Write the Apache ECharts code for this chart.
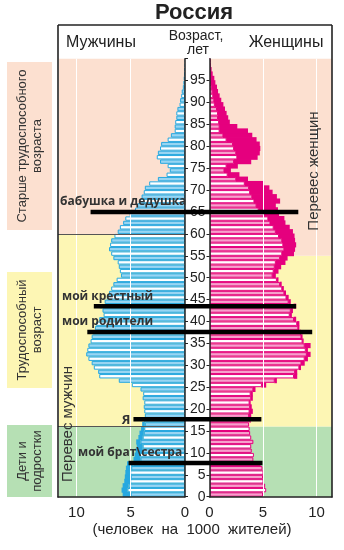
<!DOCTYPE html>
<html>
<head>
<meta charset="utf-8">
<script src="https://cdn.jsdelivr.net/npm/echarts@6/dist/echarts.min.js"></script>
<style>
html,body{margin:0;padding:0;background:#fff}
#c{width:344px;height:550px}
</style>
</head>
<body>
<div id="c"></div>
<script>
// One-year age groups 0..99
const ages = [];
for (let a = 0; a < 100; a++) ages.push(a);

// Men per 1000 inhabitants, ages 0..99
const male = [
  5.7, 5.8, 5.7, 5.55, 5.5, 5.45, 5.4, 5.3, 4.7, 4.6,
  4.5, 4.4, 4.45, 4.25, 4.15, 4.0, 3.9, 3.8, 3.7, 3.75,
  3.8, 3.75, 3.9, 3.85, 4.1, 4.9, 6.1, 7.9, 8.0, 8.4,
  8.6, 8.9, 9.1, 9.0, 8.9, 8.7, 8.6, 8.5, 8.3, 8.2,
  7.9, 7.5, 7.6, 7.9, 7.4, 7.2, 7.0, 6.8, 6.6, 6.3,
  5.9, 6.0, 6.1, 6.2, 6.6, 6.8, 7.0, 6.9, 6.8, 6.5,
  6.2, 6.0, 5.7, 5.5, 5.1, 4.6, 4.4, 4.2, 4.0, 3.8,
  3.7, 3.3, 2.5, 1.7, 1.4, 1.6, 2.3, 2.6, 2.5, 2.3,
  2.2, 1.6, 1.3, 0.95, 0.95, 0.9, 0.8, 0.8, 0.7, 0.5,
  0.45, 0.35, 0.3, 0.2, 0.15, 0.12, 0.08, 0.05, 0.03, 0.02
];

// Women per 1000 inhabitants, ages 0..99
const female = [
  5.0, 5.3, 5.2, 5.05, 5.0, 5.05, 4.95, 4.8, 4.1, 4.15,
  3.95, 3.9, 4.1, 3.9, 3.8, 3.75, 3.7, 3.85, 3.9, 4.05,
  3.95, 3.85, 4.05, 4.05, 4.3, 5.3, 6.3, 8.2, 8.2, 8.55,
  8.9, 9.2, 9.45, 9.2, 9.45, 8.8, 8.7, 8.55, 8.4, 8.4,
  8.1, 7.7, 7.8, 8.1, 7.6, 7.4, 7.15, 6.95, 6.75, 6.45,
  6.2, 6.45, 6.7, 7.1, 7.3, 7.9, 8.0, 8.1, 8.0, 7.95,
  7.8, 7.5, 7.1, 7.0, 6.5, 6.4, 6.2, 6.6, 6.3, 5.9,
  5.6, 5.1, 3.6, 2.8, 2.0, 2.65, 3.9, 4.5, 4.7, 4.75,
  4.7, 4.4, 4.0, 3.6, 2.6, 1.9, 1.75, 1.6, 1.45, 1.3,
  1.1, 0.95, 0.8, 0.7, 0.55, 0.45, 0.3, 0.2, 0.12, 0.06
];

// Age bands (years) for each sex
const bandNames = ['Дети и подростки', 'Трудоспособный возраст', 'Старше трудоспособного возраста'];
const maleBandEdges = [0, 16, 60, 100];
const femaleBandEdges = [0, 16, 55, 100];

// Family members marked on the pyramid: age and how far the marker reaches on each side
const noteTexts = ['бабушка и дедушка', 'мой крестный', 'мои родители', 'Я', 'мой брат\\сестра'];
const noteAges = [65, 43.5, 37.6, 17.7, 7.7];
const noteMaleReach = [8.7, 8.4, 9.0, 4.75, 5.2];
const noteFemaleReach = [8.3, 8.1, 9.6, 4.85, 4.95];

// ---- styles ----
const bandColors = ['#b6e0b4', '#fdf6b4', '#fce0d0'];
const maleLine = '#27a8e0', maleLight = '#98d5f2';
const femLine = '#e5007e', femLight = '#f6a0cb';
const ink = '#222';
const FONT = '"Liberation Sans", Arial, sans-serif';

const TOP = 58.7, H = 438;
const MALE_MAX = 11.7, FEM_MAX = 11.45;

function bandAreas(edges) {
  const out = [];
  for (let k = 0; k < 3; k++) {
    out.push([{ name: bandNames[k], yAxis: edges[k], itemStyle: { color: bandColors[k] } }, { yAxis: edges[k + 1] }]);
  }
  return out;
}

// One row per year of age: the part shared with the other sex is outlined
// (filled light / white on alternate years), the surplus is solid.
function pyramidSeries(name, xAxisIndex, yAxisIndex, lineColor, lightColor, own, other) {
  return {
    type: 'custom', name, xAxisIndex, yAxisIndex, z: 2, silent: true,
    data: ages.map((a, i) => [a, own[i], other[i]]),
    renderItem(params, api) {
      const age = api.value(0), v = api.value(1), o = api.value(2);
      const base = Math.min(v, o);
      const pLow = api.coord([0, age]);
      const pHigh = api.coord([base, age + 1]);
      const pEnd = api.coord([v, age + 1]);
      const top = Math.min(pLow[1], pHigh[1]);
      const h = Math.abs(pLow[1] - pHigh[1]);
      const children = [];
      if (v > o) {
        children.push({ type: 'rect',
          shape: { x: Math.min(pHigh[0], pEnd[0]) - 0.5, y: top - 0.4, width: Math.abs(pEnd[0] - pHigh[0]) + 0.5, height: h + 0.8 },
          style: { fill: lineColor } });
      }
      children.push({ type: 'rect',
        shape: { x: Math.min(pLow[0], pHigh[0]) + 0.5, y: top + 0.5, width: Math.max(0, Math.abs(pHigh[0] - pLow[0]) - 1), height: h - 1 },
        style: { fill: age % 2 === 0 ? lightColor : '#ffffff', stroke: lineColor, lineWidth: 1 } });
      return { type: 'group', children };
    }
  };
}

const chart = echarts.init(document.getElementById('c'));

const valueX = (gridIndex, max, inverse) => ({
  gridIndex, type: 'value', min: 0, max, interval: 5, inverse, z: 5,
  axisLine: { show: true, onZero: false, lineStyle: { color: ink, width: 1.5 } },
  axisTick: { show: false },
  axisLabel: { fontSize: 15, color: ink, margin: 9, fontFamily: FONT, showMaxLabel: false },
  splitLine: { show: true, lineStyle: { color: '#ffffff', width: 1 } }
});

chart.setOption({
  animation: false,
  textStyle: { fontFamily: FONT },
  grid: [
    { left: 58, top: TOP, width: 127, height: H },
    { left: 209.5, top: TOP, width: 122.5, height: H }
  ],
  xAxis: [valueX(0, MALE_MAX, true), valueX(1, FEM_MAX, false)],
  yAxis: [
    { gridIndex: 0, type: 'value', min: 0, max: 100, interval: 5, position: 'right', z: 6,
      axisLine: { show: true, onZero: false, lineStyle: { color: ink, width: 1.5 } },
      axisTick: { show: true, inside: false, length: 3, lineStyle: { color: ink } },
      axisLabel: { show: false }, splitLine: { show: false } },
    { gridIndex: 1, type: 'value', min: 0, max: 100, interval: 5, position: 'left', z: 6,
      axisLine: { show: true, onZero: false, lineStyle: { color: ink, width: 1.5 } },
      axisTick: { show: true, inside: false, length: 3, lineStyle: { color: ink } },
      axisLabel: { show: true, fontSize: 14, color: ink, margin: 4, showMaxLabel: false, fontFamily: FONT },
      splitLine: { show: false } }
  ],
  series: [
    { type: 'line', xAxisIndex: 0, yAxisIndex: 0, data: [], z: 1, silent: true,
      markArea: { silent: true, label: { show: false }, data: bandAreas(maleBandEdges) },
      markLine: { silent: true, symbol: 'none', label: { show: false },
        lineStyle: { color: '#555', width: 1, type: 'solid' },
        data: [{ yAxis: maleBandEdges[1] }, { yAxis: maleBandEdges[2] }] } },
    { type: 'line', xAxisIndex: 1, yAxisIndex: 1, data: [], z: 1, silent: true,
      markArea: { silent: true, label: { show: false }, data: bandAreas(femaleBandEdges) } },
    pyramidSeries('Мужчины', 0, 0, maleLine, maleLight, male, female),
    pyramidSeries('Женщины', 1, 1, femLine, femLight, female, male)
  ]
});

// ---- decorations and family markers ----
const px = (axis, v) => chart.convertToPixel(axis, v);
const g = [];
const txt = (x, y, text, opt) => g.push(Object.assign({
  type: 'text', x, y, z: 20,
  style: Object.assign({ text, fill: ink, fontFamily: FONT, fontSize: 14, align: 'center', verticalAlign: 'middle' }, opt && opt.style || {})
}, opt && opt.rotation ? { rotation: opt.rotation } : {}));

// title and header
txt(194, 13, 'Россия', { style: { fontSize: 22, fontWeight: 'bold' } });
txt(101, 43, 'Мужчины', { style: { fontSize: 16 } });
txt(286, 43, 'Женщины', { style: { fontSize: 16 } });
txt(196, 36, 'Возраст,', { style: { fontSize: 14 } });
txt(198, 50, 'лет', { style: { fontSize: 14 } });

// outer frame
const frame = [[58, 25, 332, 25], [58, 25, 58, 497.5], [332, 25, 332, 497.5]];
frame.forEach(s => g.push({ type: 'line', z: 19, shape: { x1: s[0], y1: s[1], x2: s[2], y2: s[3] },
  style: { stroke: ink, lineWidth: 1.6 } }));

// side legend boxes
const boxes = [
  { y0: 425, y1: 497, text: 'Дети и\nподростки' },
  { y0: 272, y1: 388, text: 'Трудоспособный\nвозраст' },
  { y0: 62, y1: 230, text: 'Старше трудоспособного\nвозраста' }
];
boxes.forEach((b, k) => {
  g.push({ type: 'rect', z: 18, shape: { x: 7, y: b.y0, width: 45, height: b.y1 - b.y0 }, style: { fill: bandColors[k] } });
  txt(29.5, (b.y0 + b.y1) / 2, b.text, { rotation: Math.PI / 2, style: { fontSize: 13, lineHeight: 15, fill: '#333' } });
});

// surplus captions
txt(68, 424, 'Перевес мужчин', { rotation: Math.PI / 2, style: { fontSize: 15, fill: '#333' } });
txt(313.5, 171, 'Перевес женщин', { rotation: Math.PI / 2, style: { fontSize: 15, fill: '#333' } });

// unit caption
txt(192, 530, '(человек  на  1000  жителей)', { style: { fontSize: 15 } });

// family markers
noteTexts.forEach((t, k) => {
  const y = px({ yAxisIndex: 1 }, noteAges[k]);
  const x1 = px({ xAxisIndex: 0 }, noteMaleReach[k]);
  const x2 = px({ xAxisIndex: 1 }, noteFemaleReach[k]);
  g.push({ type: 'line', z: 21, shape: { x1, y1: y, x2, y2: y }, style: { stroke: '#000', lineWidth: 4.5 } });
  const labStyle = { fontSize: 12, fontWeight: 'bold', fill: '#333', fontFamily: '"Open Sans", sans-serif' };
  if (t === 'Я') {
    txt(x1 - 3, y + 1, t, { style: Object.assign(labStyle, { align: 'right', fontSize: 13 }) });
  } else {
    const left = [60, 62, 62, 0, 78][k];
    txt(left, y - 10, t, { style: Object.assign(labStyle, { align: 'left' }) });
  }
});

chart.setOption({ graphic: g });
</script>
</body>
</html>
